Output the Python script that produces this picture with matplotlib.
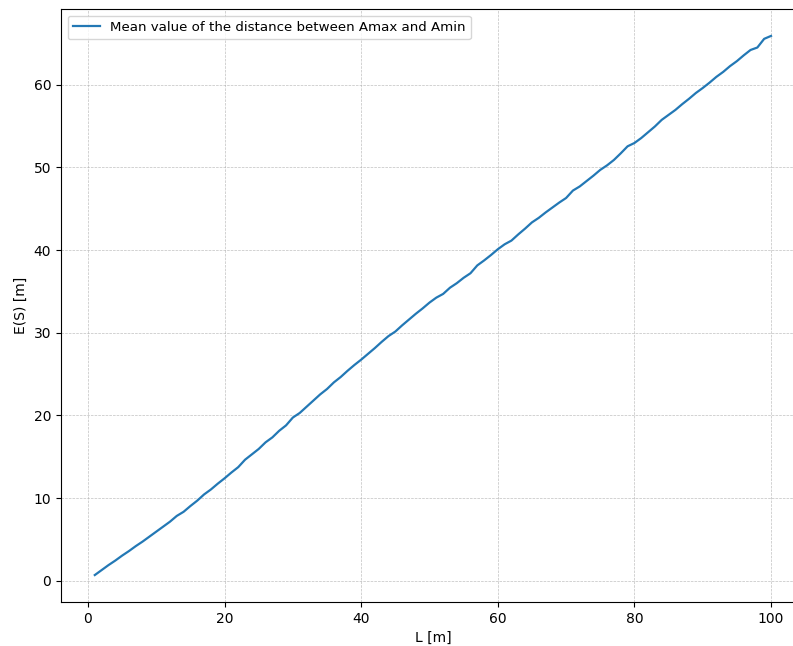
import matplotlib
matplotlib.use("Agg")
import matplotlib.pyplot as plt

# segment length L [m] and mean distance E(S) [m]
lengths = list(range(1, 101))
mean_dist = [
    0.70, 1.30, 1.90, 2.45, 3.05, 3.60, 4.20, 4.75, 5.35, 5.95,
    6.55, 7.15, 7.85, 8.35, 9.05, 9.70, 10.45, 11.05, 11.75, 12.40,
    13.10, 13.75, 14.65, 15.30, 15.95, 16.75, 17.35, 18.15, 18.80, 19.75,
    20.30, 21.05, 21.80, 22.55, 23.20, 24.00, 24.65, 25.40, 26.10, 26.75,
    27.45, 28.15, 28.90, 29.60, 30.15, 30.90, 31.60, 32.30, 32.95, 33.65,
    34.25, 34.70, 35.45, 36.00, 36.65, 37.20, 38.15, 38.75, 39.40, 40.10,
    40.70, 41.15, 41.90, 42.60, 43.35, 43.90, 44.55, 45.15, 45.75, 46.30,
    47.20, 47.70, 48.35, 49.00, 49.70, 50.25, 50.90, 51.70, 52.55, 52.95,
    53.55, 54.25, 54.95, 55.75, 56.35, 56.95, 57.65, 58.30, 59.00, 59.60,
    60.25, 60.95, 61.55, 62.25, 62.85, 63.55, 64.20, 64.50, 65.55, 65.90,
]

fig = plt.figure(figsize=(7.93, 6.46), dpi=100)
ax = fig.add_axes([0.0769, 0.0681, 0.938, 0.918])
ax.plot(lengths, mean_dist, color="#2378b5", lw=1.6,
        label="Mean value of the distance between Amax and Amin")
ax.set_xlabel("L [m]")
ax.set_ylabel("E(S) [m]")
ax.grid(True, linestyle="--", linewidth=0.5, color="#b0b0b0", alpha=0.8)
ax.legend(loc="upper left", fontsize=9.6)
fig.savefig("out.png", dpi=100)
